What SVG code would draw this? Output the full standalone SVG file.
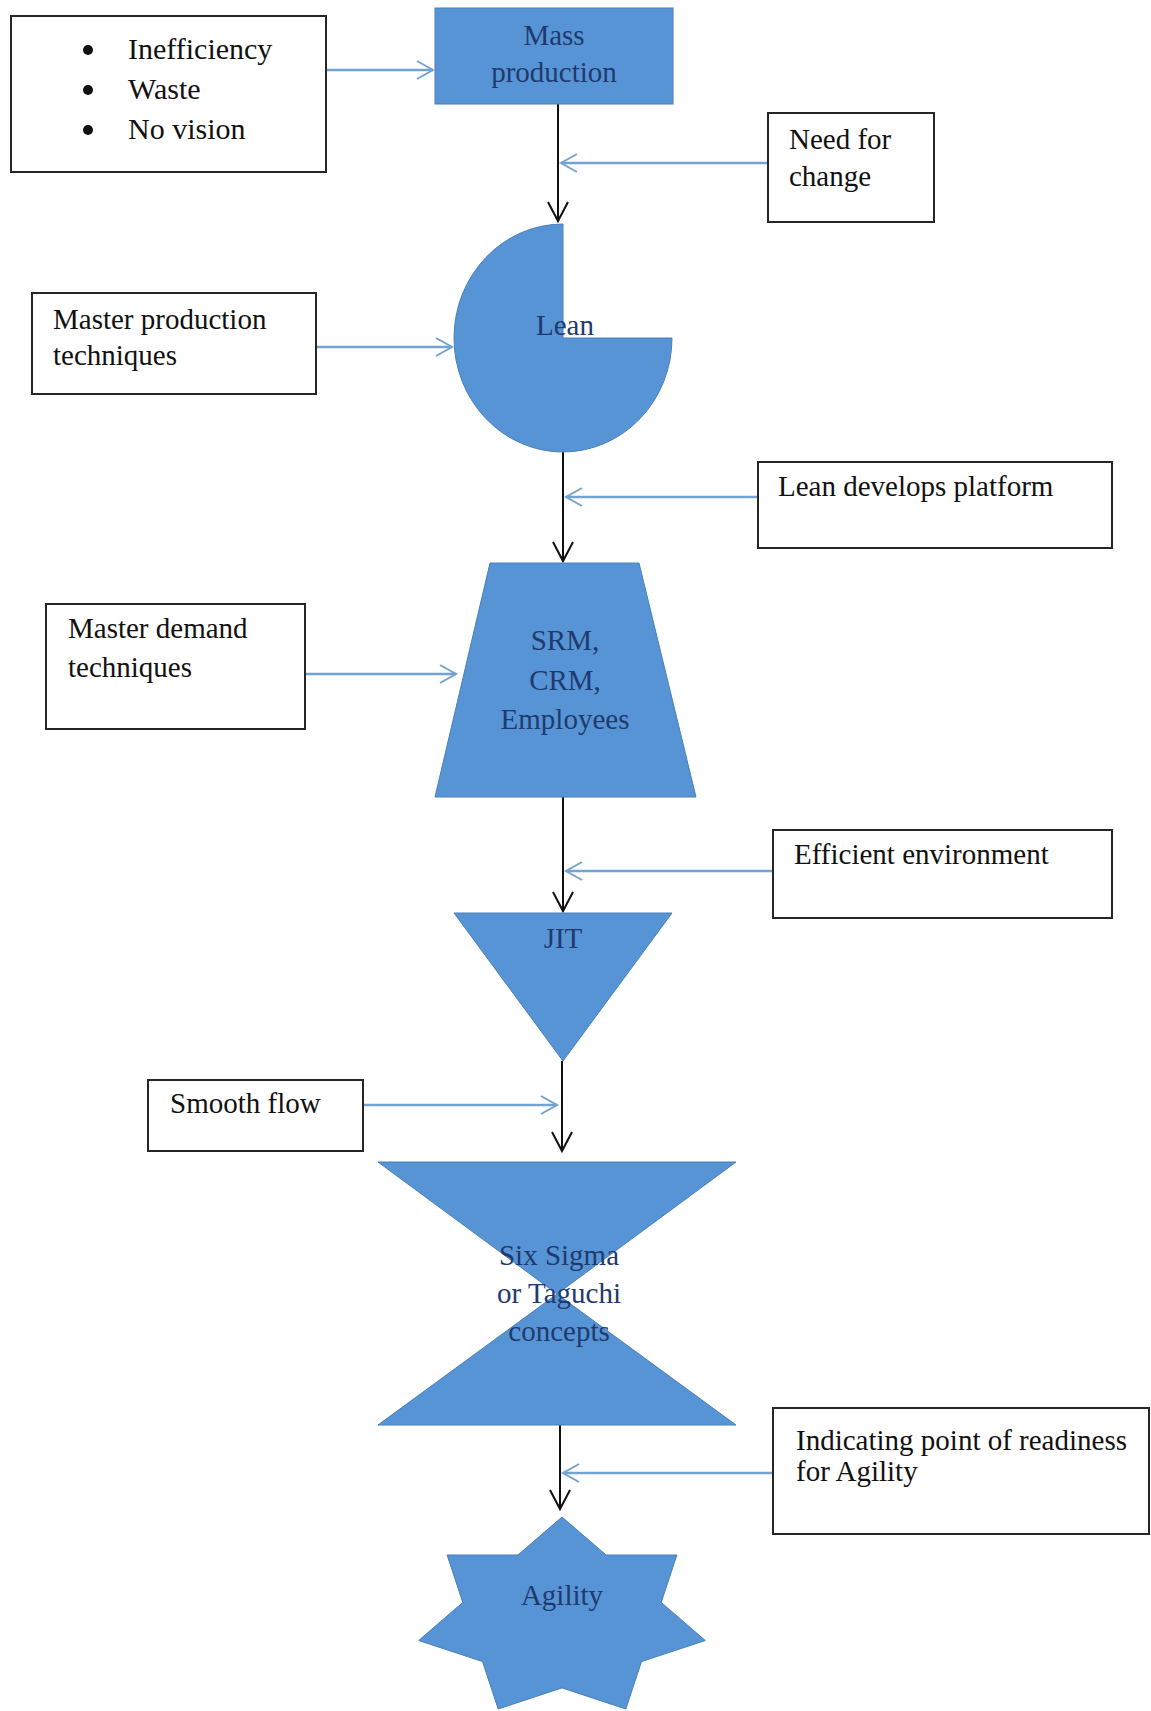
<svg xmlns="http://www.w3.org/2000/svg" width="1151" height="1711" viewBox="0 0 1151 1711">
<style>
.box{fill:#fff;stroke:#262626;stroke-width:2}
.shape{fill:#5794d5;stroke:#4a7fb8;stroke-width:1}
.t{font-family:"Liberation Serif","Times New Roman",serif;font-size:29px;fill:#111}
.st{font-family:"Liberation Serif","Times New Roman",serif;font-size:29px;fill:#1f3a6e;text-anchor:middle}
.blk{stroke:#111;stroke-width:2;fill:none}
.blu{stroke:#74a3d3;stroke-width:2.5;fill:none}
</style>
<defs>
<marker id="ab" markerUnits="userSpaceOnUse" markerWidth="26" markerHeight="26" viewBox="-22 -13 26 26" refX="0" refY="0" orient="auto" overflow="visible">
<path d="M-19,-10 L0,0 L-19,10" fill="none" stroke="#111" stroke-width="2"/>
</marker>
<marker id="au" markerUnits="userSpaceOnUse" markerWidth="26" markerHeight="26" viewBox="-22 -13 26 26" refX="0" refY="0" orient="auto" overflow="visible">
<path d="M-16,-9 L0,0 L-16,9" fill="none" stroke="#74a3d3" stroke-width="2"/>
</marker>
</defs>
<rect width="1151" height="1711" fill="#fff"/>

<g id="connectors">
<line class="blk" x1="558" y1="104" x2="558" y2="221" marker-end="url(#ab)"/>
<line class="blk" x1="563" y1="452" x2="563" y2="561" marker-end="url(#ab)"/>
<line class="blk" x1="563" y1="797" x2="563" y2="911" marker-end="url(#ab)"/>
<line class="blk" x1="562" y1="1061" x2="562" y2="1151" marker-end="url(#ab)"/>
<line class="blk" x1="560" y1="1425" x2="560" y2="1509" marker-end="url(#ab)"/>
<line class="blu" x1="327" y1="70" x2="433" y2="70" marker-end="url(#au)"/>
<line class="blu" x1="768" y1="163" x2="561" y2="163" marker-end="url(#au)"/>
<line class="blu" x1="316" y1="347" x2="452" y2="347" marker-end="url(#au)"/>
<line class="blu" x1="758" y1="497" x2="566" y2="497" marker-end="url(#au)"/>
<line class="blu" x1="305" y1="674" x2="456" y2="674" marker-end="url(#au)"/>
<line class="blu" x1="773" y1="871" x2="566" y2="871" marker-end="url(#au)"/>
<line class="blu" x1="363" y1="1105" x2="557" y2="1105" marker-end="url(#au)"/>
<line class="blu" x1="773" y1="1473" x2="563" y2="1473" marker-end="url(#au)"/>
</g>

<g id="problems">
<rect class="box" x="11" y="16" width="315" height="156"/>
<circle cx="88" cy="50" r="5" fill="#111"/>
<circle cx="88" cy="90" r="5" fill="#111"/>
<circle cx="88" cy="130" r="5" fill="#111"/>
<text class="t" style="font-size:30px" x="128" y="59">Inefficiency</text>
<text class="t" style="font-size:30px" x="128" y="99">Waste</text>
<text class="t" style="font-size:30px" x="128" y="139">No vision</text>
</g>

<g id="mass-production">
<rect class="shape" x="435" y="8" width="238" height="96"/>
<text class="st" x="554" y="45">Mass</text>
<text class="st" x="554" y="82">production</text>
</g>

<g id="need-for-change">
<rect class="box" x="768" y="113" width="166" height="109"/>
<text class="t" x="789" y="149">Need for</text>
<text class="t" x="789" y="186">change</text>
</g>

<g id="lean">
<path class="shape" d="M563,338 L563,224 A109,114 0 1 0 672,338 Z"/>
<text class="st" x="565" y="335">Lean</text>
</g>

<g id="master-production">
<rect class="box" x="32" y="293" width="284" height="101"/>
<text class="t" x="53" y="329">Master production</text>
<text class="t" x="53" y="365">techniques</text>
</g>

<g id="lean-develops">
<rect class="box" x="758" y="462" width="354" height="86"/>
<text class="t" x="778" y="496">Lean develops platform</text>
</g>

<g id="srm-crm">
<polygon class="shape" points="490,563 639,563 696,797 435,797"/>
<text class="st" x="565" y="650">SRM,</text>
<text class="st" x="565" y="690">CRM,</text>
<text class="st" x="565" y="729">Employees</text>
</g>

<g id="master-demand">
<rect class="box" x="46" y="604" width="259" height="125"/>
<text class="t" x="68" y="638">Master demand</text>
<text class="t" x="68" y="677">techniques</text>
</g>

<g id="efficient-environment">
<rect class="box" x="773" y="830" width="339" height="88"/>
<text class="t" x="794" y="864">Efficient environment</text>
</g>

<g id="jit">
<polygon class="shape" points="454,913 672,913 563,1061"/>
<text class="st" x="563" y="948">JIT</text>
</g>

<g id="smooth-flow">
<rect class="box" x="148" y="1080" width="215" height="71"/>
<text class="t" x="170" y="1113">Smooth flow</text>
</g>

<g id="six-sigma">
<polygon class="shape" points="378,1162 736,1162 557,1294"/>
<polygon class="shape" points="557,1294 736,1425 378,1425"/>
<text class="st" x="559" y="1265">Six Sigma</text>
<text class="st" x="559" y="1303">or Taguchi</text>
<text class="st" x="559" y="1341">concepts</text>
</g>

<g id="readiness">
<rect class="box" x="773" y="1408" width="376" height="126"/>
<text class="t" x="796" y="1450">Indicating point of readiness</text>
<text class="t" x="796" y="1481">for Agility</text>
</g>

<g id="agility">
<polygon class="shape" points="562,1517 606.1,1555 676.9,1555 661.2,1602.4 705.3,1640.5 641.5,1661.6 625.8,1709 562,1687.9 498.2,1709 482.5,1661.6 418.7,1640.5 462.8,1602.4 447.1,1555 517.9,1555"/>
<text class="st" x="562" y="1605">Agility</text>
</g>
</svg>
